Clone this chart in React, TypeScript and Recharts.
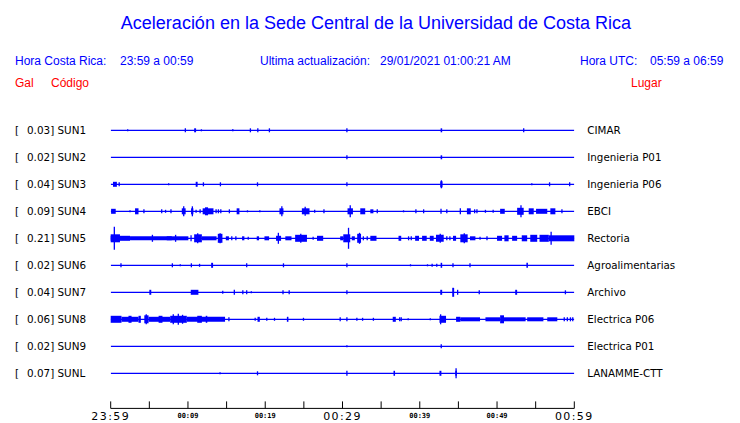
import React from 'react';
import { ComposedChart, Line, Scatter, ErrorBar, XAxis, YAxis, ReferenceArea } from 'recharts';

// ---- labels ----
const stationCodes = ['SUN1', 'SUN2', 'SUN3', 'SUN4', 'SUN5', 'SUN6', 'SUN7', 'SUN8', 'SUN9', 'SUNL'];
const peakGal = ['0.03', '0.02', '0.04', '0.09', '0.21', '0.02', '0.04', '0.06', '0.02', '0.07'];
const places = ['CIMAR', 'Ingenieria P01', 'Ingenieria P06', 'EBCI', 'Rectoria', 'Agroalimentarias', 'Archivo', 'Electrica P06', 'Electrica P01', 'LANAMME-CTT'];
const minuteTicks = [0, 5, 10, 15, 20, 25, 30, 35, 40, 45, 50, 55, 60];
const minuteTickLabels = ['23:59', '', '00:09', '', '00:19', '', '00:29', '', '00:39', '', '00:49', '', '00:59'];
const majorTicks = [0, 30, 60];
const windowMinutes = [0, 60];

// display gain: amplitude units -> trace spacing units
const GAIN = 1 / 27;

// ---- traces: spikes [minute, half amplitude], bursts [from, to, half amplitude] ----
const sun1Spikes = [[2.2, 1], [9.66, 2], [11.74, 1], [18.08, 2], [19.04, 2], [20.54, 2], [30.57, 2], [53.45, 2]];
const sun1Bursts = [[10.8, 11.05, 2], [15.7, 15.9, 1], [42.7, 42.9, 2]];

const sun2Spikes = [[30.57, 2]];
const sun2Bursts = [[42.7, 42.9, 2]];

const sun3Spikes = [[1.1, 2], [7.5, 1], [12.0, 2], [14.2, 2], [19.0, 2], [30.57, 2], [42.8, 4], [54.5, 1], [56.8, 2], [59.4, 2]];
const sun3Bursts = [[0.3, 0.8, 2.5], [11.0, 11.25, 2.5], [42.65, 42.95, 3]];

const sun4Spikes = [[2.5, 1], [4.3, 2], [6.6, 2], [7.1, 1.5], [7.8, 2], [9.45, 5], [10.57, 5], [11.05, 1.5], [11.57, 2], [13.64, 2], [13.94, 2], [14.25, 2], [15.36, 2], [17.7, 1], [19.3, 1], [22.15, 5], [25.17, 4.5], [26.4, 1.5], [27.6, 2], [31.0, 6], [34.5, 2], [37.9, 1], [39.5, 2], [40.5, 2], [42.75, 2.5], [43.5, 2], [45.25, 3], [47.1, 2], [47.4, 2], [48.5, 1.5], [49.5, 1.5], [53.1, 6], [58.4, 2]];
const sun4Bursts = [[0.05, 0.65, 2.5], [3.15, 3.6, 3], [9.2, 9.7, 3], [10.4, 10.7, 3], [11.9, 13.3, 3], [12.2, 12.6, 4], [16.3, 16.66, 3], [21.84, 22.36, 3], [24.74, 25.73, 3], [30.65, 31.35, 3], [32.3, 32.94, 3], [33.6, 34.0, 2], [46.1, 46.6, 3], [50.4, 51.0, 2.5], [52.6, 53.45, 3.5], [54.1, 54.75, 3], [55.05, 56.5, 2.5], [56.9, 57.55, 3]];

const sun5Spikes = [[0.47, 11.5], [5.4, 3.5], [8.4, 3.5], [10.4, 3], [11.26, 5], [14.16, 5], [15.67, 2], [16.2, 2], [17.8, 1.5], [21.7, 5.5], [24.6, 4.5], [26.2, 1.5], [30.26, 2], [30.78, 10.5], [32.2, 5.5], [32.7, 2], [33.2, 2], [38.55, 2], [38.9, 2], [42.65, 4.5], [43.5, 2], [43.9, 2], [45.76, 5], [47.8, 1.5], [48.7, 2], [57.0, 6.5]];
const sun5Bursts = [[0, 2.5, 2.5], [0, 1.2, 4], [2.5, 7.9, 2], [7.25, 10.05, 2], [10.8, 11.8, 4], [11.8, 13.7, 2], [13.86, 14.46, 4.5], [14.9, 15.3, 2], [17.0, 17.3, 2], [18.9, 19.2, 2], [19.9, 20.5, 2], [21.4, 22.05, 2.5], [22.6, 23.4, 2], [23.87, 25.4, 3.5], [26.7, 27.5, 2.5], [29.7, 30.1, 2], [30.1, 31.0, 4], [31.2, 31.6, 2], [31.9, 32.4, 4.5], [33.6, 34.4, 2.5], [37.25, 37.6, 2.5], [39.4, 39.9, 2.5], [40.3, 40.9, 2.5], [41.3, 41.8, 2.5], [42.1, 43.1, 3.5], [44.3, 44.7, 2.5], [45.25, 46.2, 4], [46.5, 47.2, 2], [50.0, 50.65, 2.5], [50.95, 51.5, 3], [51.95, 52.6, 2.5], [53.2, 53.9, 3], [54.3, 55.2, 3.5], [55.5, 56.7, 3.5], [56.7, 60, 3]];

const sun6Spikes = [[1.33, 2], [7.98, 2], [9.0, 1], [10.44, 2], [11.5, 1.5], [17.6, 2], [22.36, 2], [30.57, 2], [38.8, 1], [41.0, 1], [41.6, 1.5], [42.2, 1.5], [44.3, 2], [46.5, 2]];
const sun6Bursts = [[13.0, 13.25, 2.5], [42.7, 42.9, 2.5], [53.8, 54.0, 2.5]];

const sun7Spikes = [[14.5, 1.5], [16.0, 2.5], [17.1, 2], [17.6, 2], [18.2, 1], [22.3, 2], [23.1, 2], [30.57, 2], [44.9, 2.5], [47.7, 2], [58.85, 2]];
const sun7Bursts = [[5.0, 5.25, 2.5], [10.36, 11.35, 2.5], [42.65, 42.9, 2.5], [44.2, 44.45, 4.5], [52.35, 52.6, 2.5]];

const sun8Spikes = [[4.6, 5], [8.1, 5], [8.75, 5.5], [9.3, 4.5], [15.3, 2], [18.7, 1.5], [20.2, 1.5], [21.2, 1.5], [24.95, 1.5], [29.7, 2], [30.57, 2], [31.86, 1.5], [32.6, 1.5], [34.0, 1.5], [37.4, 2], [37.6, 2], [38.5, 1], [41.36, 1], [42.7, 5], [58.7, 2], [59.1, 2], [59.5, 2], [59.8, 2]];
const sun8Bursts = [[0, 1.4, 3.5], [1.4, 3.6, 2.5], [2.3, 2.7, 3.5], [3.6, 3.9, 3.5], [4.35, 4.9, 4], [4.9, 7.7, 2.5], [6.2, 6.7, 3.5], [7.7, 9.85, 3.5], [9.85, 14.8, 2.5], [11.2, 11.8, 3.5], [12.3, 12.5, 3.5], [19.0, 19.3, 2.5], [22.8, 23.0, 2.5], [36.5, 36.9, 2.5], [42.55, 43.4, 3.5], [44.7, 45.25, 2.5], [45.25, 47.8, 2], [48.5, 50.4, 2], [50.4, 50.9, 4], [50.9, 53.7, 2], [53.9, 56.0, 2], [56.5, 57.8, 2]];

const sun9Spikes = [[30.57, 1], [42.78, 2]];
const sun9Bursts = [];

const sunLSpikes = [[14.15, 1], [19.0, 2], [30.57, 2.5], [44.7, 5]];
const sunLBursts = [[36.6, 36.8, 2.5], [42.55, 42.8, 2.5], [44.6, 44.8, 2.5]];

const traceSpikes = [sun1Spikes, sun2Spikes, sun3Spikes, sun4Spikes, sun5Spikes, sun6Spikes, sun7Spikes, sun8Spikes, sun9Spikes, sunLSpikes];
const traceBursts = [sun1Bursts, sun2Bursts, sun3Bursts, sun4Bursts, sun5Bursts, sun6Bursts, sun7Bursts, sun8Bursts, sun9Bursts, sunLBursts];

const BLUE = '#0000ff';
const RED = '#ff0000';
const traceIdx = stationCodes.map((_, i) => i);

const baselineRows = windowMinutes.map((t) => {
  const row: Record<string, number> = { t };
  traceIdx.forEach((i) => { row['s' + i] = i; });
  return row;
});

const CodeTick = (p: any) => {
  const i = p.payload.value;
  return (
    <text x={p.x} y={p.y} dy="0.36em" fontFamily="DejaVu Sans" fontSize={10.4} fill="#000">
      <tspan x={p.x}>[</tspan>
      <tspan x={p.x + 12}>{peakGal[i] + '] ' + stationCodes[i]}</tspan>
    </text>
  );
};

const PlaceTick = (p: any) => {
  const i = p.payload.value;
  return (
    <text x={p.x} y={p.y} dy="0.36em" fontFamily="DejaVu Sans" fontSize={10.3} fill="#000" textAnchor="start">
      {places[i]}
    </text>
  );
};

const TimeTick = (p: any) => {
  const v = p.payload.value;
  const idx = minuteTicks.indexOf(v);
  const label = minuteTickLabels[idx];
  const major = majorTicks.includes(v);
  return (
    <g>
      <line x1={p.x} x2={p.x} y1={p.y - 7} y2={p.y} stroke="#000" strokeWidth={1} />
      {label ? (
        major ? (
          <text x={p.x} y={p.y + 11.5} textAnchor="middle" fontFamily="DejaVu Sans" fontSize={11} letterSpacing={1.4} fill="#000">{label}</text>
        ) : (
          <text x={p.x} y={p.y + 9.3} textAnchor="middle" fontFamily="DejaVu Sans Mono" fontWeight="bold" fontSize={7} fill="#000">{label}</text>
        )
      ) : null}
    </g>
  );
};

export default function App() {
  return (
    <div style={{ position: 'absolute', left: 0, top: 0, width: 740, height: 423, background: '#fff' }}>
      <div style={{ position: 'absolute', left: 0, top: 0 }}>
        <ComposedChart width={740} height={423} data={baselineRows} margin={{ top: 103.3, right: 0, bottom: 0, left: 0 }}>
          <XAxis dataKey="t" type="number" domain={[0, 60]} ticks={minuteTicks} interval={0} allowDataOverflow
            height={14.6} tickLine={false} tickSize={0} tickMargin={0}
            axisLine={{ stroke: '#000', strokeWidth: 1 }} tick={(p: any) => <TimeTick {...p} />} />
          <YAxis yAxisId="left" dataKey="y" type="number" domain={[-1, 10.3]} reversed allowDataOverflow
            ticks={traceIdx} interval={0} width={110.7} axisLine={false} tickLine={false} tickSize={0} tickMargin={95.7}
            tick={(p: any) => <CodeTick {...p} />} />
          <YAxis yAxisId="right" orientation="right" type="number" domain={[-1, 10.3]} reversed allowDataOverflow
            ticks={traceIdx} interval={0} width={165.7} axisLine={false} tickLine={false} tickSize={0} tickMargin={13}
            tick={(p: any) => <PlaceTick {...p} />} />
          {traceIdx.map((i) => (
            <Line key={'b' + i} yAxisId="right" dataKey={'s' + i} type="linear" stroke={BLUE} strokeWidth={1.2}
              dot={false} activeDot={false} isAnimationActive={false} />
          ))}
          {traceIdx.flatMap((i) => traceBursts[i].map((b, j) => (
            <ReferenceArea key={'r' + i + '-' + j} yAxisId="left" x1={b[0]} x2={b[1]} y1={i - b[2] * GAIN} y2={i + b[2] * GAIN}
              fill={BLUE} fillOpacity={1} stroke="none" ifOverflow="visible" />
          )))}
          {traceIdx.map((i) => (
            <Scatter key={'s' + i} yAxisId="left" data={traceSpikes[i].map(([t, a]) => ({ t, y: i, e: a * GAIN }))}
              shape={() => <g />} isAnimationActive={false}>
              <ErrorBar dataKey="e" direction="y" width={0} stroke={BLUE} strokeWidth={1.3} isAnimationActive={false} />
            </Scatter>
          ))}
        </ComposedChart>
      </div>
      <svg width={740} height={423} style={{ position: 'absolute', left: 0, top: 0, pointerEvents: 'none' }}>
        <g fontFamily="Liberation Sans" >
          <text x={376} y={28.5} textAnchor="middle" fontSize={18} fill={BLUE}>Aceleración en la Sede Central de la Universidad de Costa Rica</text>
          <text x={15} y={64.5} fontSize={12} fill={BLUE}>Hora Costa Rica:</text>
          <text x={120} y={64.5} fontSize={12} fill={BLUE}>23:59 a 00:59</text>
          <text x={260} y={64.5} fontSize={12} fill={BLUE}>Ultima actualización:</text>
          <text x={380} y={64.5} fontSize={12} fill={BLUE}>29/01/2021 01:00:21 AM</text>
          <text x={580} y={64.5} fontSize={12} fill={BLUE}>Hora UTC:</text>
          <text x={650} y={64.5} fontSize={12} fill={BLUE}>05:59 a 06:59</text>
          <text x={15} y={86.5} fontSize={12} fill={RED}>Gal</text>
          <text x={51} y={86.5} fontSize={12} fill={RED}>Código</text>
          <text x={631} y={86.5} fontSize={12} fill={RED}>Lugar</text>
        </g>
      </svg>
    </div>
  );
}
